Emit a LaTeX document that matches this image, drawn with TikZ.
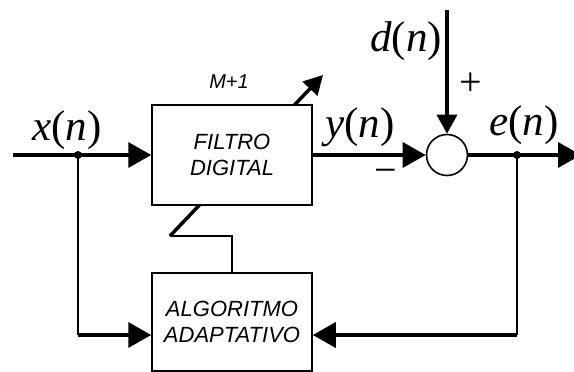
\documentclass[tikz,border=0pt]{standalone}
\usepackage{fontspec}
\setmainfont{Liberation Sans}
\newfontfamily\sigfont{Liberation Serif}
\usetikzlibrary{arrows.meta}

\begin{document}
\begin{tikzpicture}[x=1pt,y=-1pt,
  blk/.style={draw,line width=1.5pt,fill=white,minimum width=160pt,
    minimum height=100pt,inner sep=0pt,align=center,
    font=\fontsize{22}{26}\selectfont\itshape},
  heavy/.style={line width=3.5pt},
  light/.style={line width=1.6pt},
  tipbig/.style={-{Triangle[length=23pt,width=25pt]}},
  tipsmall/.style={-{Triangle[length=19pt,width=20pt]}},
  sig/.style={inner sep=0pt,anchor=base,font=\fontsize{43}{43}\selectfont\sigfont},
  sign/.style={inner sep=0pt,font=\fontsize{40}{40}\selectfont\sigfont}]

\useasboundingbox (0,0) rectangle (574,372);
\clip (0,0) rectangle (574,372);

% adaptive algorithm block
\node[blk,minimum height=98pt] (algo) at (232,322) {ALGORITMO\\ADAPTATIVO};

% adjustment path from the algorithm to the filter (drawn under the filter)
\coordinate (adjA) at (170,236);
\coordinate (adjB) at (323,75);
\draw[light] (algo.north) |- (adjA);
\draw[heavy,tipsmall] (adjA) -- (adjB);

% digital filter block
\node[blk] (filter) at (232,155) {FILTRO\\DIGITAL};
\node[inner sep=0pt,font=\fontsize{20}{20}\selectfont\itshape] (order) at (229,82) {M+1};

% summing junction
\node[draw,light,circle,minimum size=41pt,inner sep=0pt] (sum) at (447,155) {};

% signal coordinates
\coordinate (xin) at (13,155);
\coordinate (xj) at (78,155);
\coordinate (ej) at (517,155);
\coordinate (eout) at (581,155);
\coordinate (din) at (447,10);
\coordinate (lc) at (78,335);
\coordinate (rc) at (517,335);

% forward path
\draw[heavy,tipbig] (xin) -- (filter.west);
\draw[heavy,tipbig] (filter.east) -- (sum.west);
\draw[heavy,tipbig] (sum.east) -- (eout);
\draw[heavy,tipsmall] (din) -- (sum.north);

% feedback paths to the algorithm
\draw[light] (xj) -- (lc);
\draw[heavy,tipbig] (lc) -- (algo.west |- lc);
\draw[light] (ej) -- (rc);
\draw[heavy,tipbig] (rc) -- (algo.east |- rc);

% branch points
\fill (xj) circle (4pt);
\fill (ej) circle (4pt);

% signal labels
\node[sig] (lx) at (67,140) {\itshape x\upshape(\itshape n\upshape)};
\node[sig] (ld) at (406,52) {\itshape d\upshape(\itshape n\upshape)};
\node[sig] (ly) at (360,137) {\itshape y\upshape(\itshape n\upshape)};
\node[sig] (le) at (524,135) {\itshape e\upshape(\itshape n\upshape)};
\node[sign] (plus) at (471,84) {+};
\node[sign] (minus) at (386,176) {−};
\end{tikzpicture}
\end{document}
